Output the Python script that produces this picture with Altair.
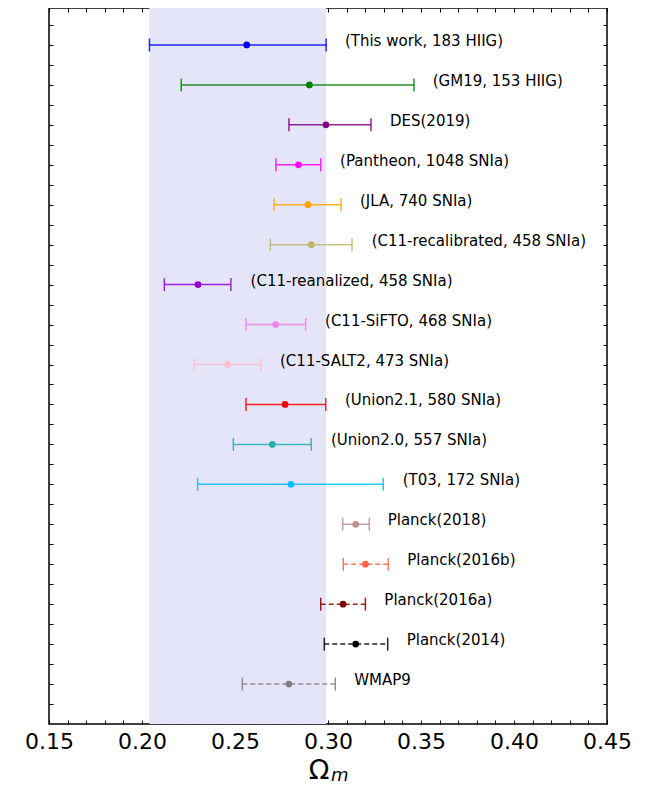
import altair as alt
import pandas as pd

names = ["(This work, 183 HIIG)", "(GM19, 153 HIIG)", "DES(2019)", "(Pantheon, 1048 SNIa)",
         "(JLA, 740 SNIa)", "(C11-recalibrated, 458 SNIa)", "(C11-reanalized, 458 SNIa)",
         "(C11-SiFTO, 468 SNIa)", "(C11-SALT2, 473 SNIa)", "(Union2.1, 580 SNIa)",
         "(Union2.0, 557 SNIa)", "(T03, 172 SNIa)", "Planck(2018)", "Planck(2016b)",
         "Planck(2016a)", "Planck(2014)", "WMAP9"]
centers = [0.2563, 0.2900, 0.2989, 0.2841, 0.2892, 0.2910, 0.2301, 0.2719, 0.2461,
           0.2769, 0.2701, 0.2801, 0.3149, 0.3201, 0.3081, 0.3149, 0.2790]
lows = [0.2040, 0.2211, 0.2790, 0.2720, 0.2710, 0.2690, 0.2120, 0.2559, 0.2280,
        0.2559, 0.2491, 0.2299, 0.3079, 0.3082, 0.2961, 0.2980, 0.2539]
highs = [0.2990, 0.3462, 0.3231, 0.2961, 0.3070, 0.3129, 0.2478, 0.2880, 0.2640,
         0.2988, 0.2910, 0.3297, 0.3222, 0.3324, 0.3201, 0.3321, 0.3039]
label_x = [0.3091, 0.3563, 0.3333, 0.3065, 0.3172, 0.3235, 0.2584, 0.2984, 0.2742,
           0.3091, 0.3016, 0.3402, 0.3321, 0.3426, 0.3303, 0.3423, 0.3141]
colors = ["#0000ff", "#008000", "#800080", "#ff00ff", "#ffa500", "#bdb76b", "#9400d3",
          "#ee82ee", "#ffc0cb", "#ff0000", "#20b2aa", "#00bfff", "#bc8f8f", "#ff6347",
          "#800000", "#000000", "#808080"]
styles = ["solid"] * 13 + ["dashed"] * 4
band = [0.2040, 0.2990]

x_ticks = [round(0.15 + 0.01 * i, 2) for i in range(31)]
y_ticks = [0.5 + 0.5 * i for i in range(35)]

df = pd.DataFrame({
    "name": names, "row": list(range(1, 18)), "c": centers, "lo": lows,
    "hi": highs, "lx": label_x, "style": styles,
})
band_df = pd.DataFrame({"lo": [band[0]], "hi": [band[1]]})

FONT = "DejaVu Sans"
xscale = alt.Scale(domain=[0.15, 0.45], nice=False, zero=False)
yscale = alt.Scale(domain=[0.075, 18], reverse=True, nice=False, zero=False)
color = alt.Color("name:N", scale=alt.Scale(domain=names, range=colors), legend=None)
dash = alt.StrokeDash("style:N", scale=alt.Scale(domain=["solid", "dashed"],
                                                 range=[[1, 0], [5, 3]]), legend=None)

common_axis = dict(tickSize=4, offset=-4, domain=False, grid=False, title=None,
                   tickColor="black", tickWidth=1)
x_bottom = alt.Axis(orient="bottom", values=x_ticks,
                    labelExpr="abs(round(datum.value*100) % 5) == 0 ? format(datum.value, '.2f') : ''",
                    labelPadding=7, labelFontSize=22, labelFont=FONT, labelColor="black",
                    labelOverlap=False, labelFlush=False, **common_axis)
x_top = alt.Axis(orient="top", values=x_ticks, labels=False, **common_axis)
y_left = alt.Axis(orient="left", values=y_ticks, labels=False, **common_axis)
y_right = alt.Axis(orient="right", values=y_ticks, labels=False, **common_axis)

band_layer = alt.Chart(band_df).mark_rect(color="#e5e5fa").encode(
    x=alt.X("lo:Q", scale=xscale, axis=x_bottom), x2="hi:Q")

rules = alt.Chart(df).mark_rule(strokeWidth=1.5, opacity=0.85).encode(
    x=alt.X("lo:Q", scale=xscale, axis=None), x2="hi:Q",
    y=alt.Y("row:Q", scale=yscale, axis=y_left), color=color, strokeDash=dash)

caps_lo = alt.Chart(df).mark_tick(orient="vertical", size=13, thickness=1.5, opacity=0.85).encode(
    x=alt.X("lo:Q", scale=xscale, axis=None),
    y=alt.Y("row:Q", scale=yscale, axis=None), color=color)
caps_hi = alt.Chart(df).mark_tick(orient="vertical", size=13, thickness=1.5, opacity=0.85).encode(
    x=alt.X("hi:Q", scale=xscale, axis=None),
    y=alt.Y("row:Q", scale=yscale, axis=None), color=color)

points = alt.Chart(df).mark_circle(size=45, opacity=1).encode(
    x=alt.X("c:Q", scale=xscale, axis=x_top),
    y=alt.Y("row:Q", scale=yscale, axis=y_right), color=color)

labels = alt.Chart(df).mark_text(align="left", baseline="middle", dy=-4, fontSize=15,
                                 font=FONT, color="black").encode(
    x=alt.X("lx:Q", scale=xscale, axis=None),
    y=alt.Y("row:Q", scale=yscale, axis=None), text="name:N")

title_df = pd.DataFrame({"t": ["Ω"], "s": ["m"]})
omega = alt.Chart(title_df).mark_text(align="center", baseline="alphabetic", fontSize=27,
                                      font=FONT, color="black").encode(
    x=alt.value(270), y=alt.value(771), text="t:N")
sub_m = alt.Chart(title_df).mark_text(align="left", baseline="alphabetic", fontSize=18,
                                      font=FONT, fontStyle="italic", color="black").encode(
    x=alt.value(282), y=alt.value(773), text="s:N")

chart = alt.layer(band_layer, rules, caps_lo, caps_hi, points, labels, omega, sub_m).resolve_axis(
    x="independent", y="independent"
).properties(
    width=558, height=716,
    autosize=alt.AutoSizeParams(type="none"),
    padding={"left": 41, "top": 0, "right": 24, "bottom": 62},
).configure_view(stroke="black", strokeWidth=1.5)

chart.save("out.html", embed_options={"renderer": "svg", "actions": False})
